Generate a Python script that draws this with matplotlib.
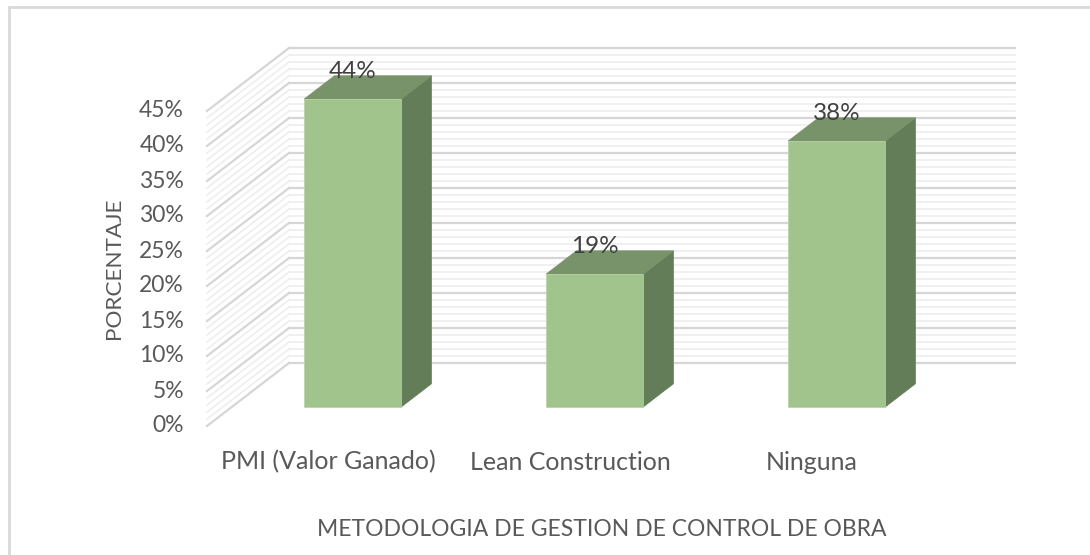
import matplotlib
matplotlib.use("Agg")
import matplotlib.pyplot as plt
from matplotlib.patches import Polygon, Rectangle

# datos
categorias = ["PMI (Valor Ganado)", "Lean Construction", "Ninguna"]
porcentajes = [44, 19, 38]
etiquetas = ["44%", "19%", "38%"]
ticks_y = list(range(0, 50, 5))

# geometría del falso 3D (unidades de datos: categoría / porcentaje)
PX_CAT = 242.0      # px por categoría
PX_PCT = 7.0        # px por punto porcentual
DX = 82 / PX_CAT    # profundidad en x
DY = 63 / PX_PCT    # profundidad en y
F0, F1 = 0.30, 0.67  # posición del frente y fondo de la barra en la profundidad
ANCHO = 97 / PX_CAT
YMAX = 45

C_FRENTE = "#a0c48c"
C_TOPE = "#78936a"
C_LADO = "#637d58"
GRIS = "#595959"

fig = plt.figure(figsize=(10.9, 5.55), dpi=100)
ax = fig.add_axes([0, 0, 1, 1])
# origen: categoría 0 en x=328 px, 0% en y=426 px (desde arriba)
ax.set_xlim(-328 / PX_CAT, (1090 - 328) / PX_CAT)
ax.set_ylim(-(555 - 426) / PX_PCT, 426 / PX_PCT)
ax.axis("off")

x0, x1 = -0.5, len(categorias) - 0.5

# rejilla: pared trasera y pared lateral
for p in range(0, YMAX + 1):
    mayor = p % 5 == 0
    col = "#d6d6d6" if mayor else "#eeeeee"
    lw = 1.6 if mayor else 1.2
    ax.plot([x0 + DX, x1 + DX], [p + DY, p + DY], color=col, lw=lw, zorder=1)
    ax.plot([x0, x0 + DX], [p, p + DY], color=col, lw=lw, zorder=1)

# barras
for i, v in enumerate(porcentajes):
    xl = i - ANCHO / 2 + F0 * DX
    xr = xl + ANCHO
    yb = F0 * DY
    dx = (F1 - F0) * DX
    dy = (F1 - F0) * DY
    ax.add_patch(Polygon([(xr, yb), (xr + dx, yb + dy), (xr + dx, v + yb + dy), (xr, v + yb)],
                         closed=True, fc=C_LADO, ec=C_LADO, lw=0.5, zorder=3))
    ax.add_patch(Polygon([(xl, v + yb), (xr, v + yb), (xr + dx, v + yb + dy), (xl + dx, v + yb + dy)],
                         closed=True, fc=C_TOPE, ec=C_TOPE, lw=0.5, zorder=3))
    ax.add_patch(Rectangle((xl, yb), ANCHO, v, fc=C_FRENTE, ec="#b5d3a4", lw=0.5, zorder=4))
    ax.text(i + F0 * DX, v + yb + dy + 0.6, etiquetas[i], ha="center", va="center",
            fontsize=17.5, color="#404040", family="Lato", zorder=5)

# etiquetas de ejes
for t in ticks_y:
    ax.text(x0 - 23 / PX_CAT, t, f"{t}%", ha="right", va="center",
            fontsize=16.5, color=GRIS, family="Lato")
for i, c in enumerate(categorias):
    ax.text(i, -36 / PX_PCT, c, ha="center", va="center",
            fontsize=18, color=GRIS, family="Lato")

ax.text(x0 - 93 / PX_CAT, 22.5, "PORCENTAJE", rotation=90, ha="center", va="center",
        fontsize=16.2, color=GRIS, family="Lato")
ax.text(1.13, -104 / PX_PCT, "METODOLOGIA DE GESTION DE CONTROL DE OBRA", ha="center",
        va="center", fontsize=16.5, color=GRIS, family="Lato")

# borde del gráfico
fig.patches.append(Rectangle((9 / 1090, -0.05), 1.1, 1.05 - 7 / 555, transform=fig.transFigure,
                             fill=False, ec="#d9d9d9", lw=2))

fig.savefig("out.png", dpi=100)
